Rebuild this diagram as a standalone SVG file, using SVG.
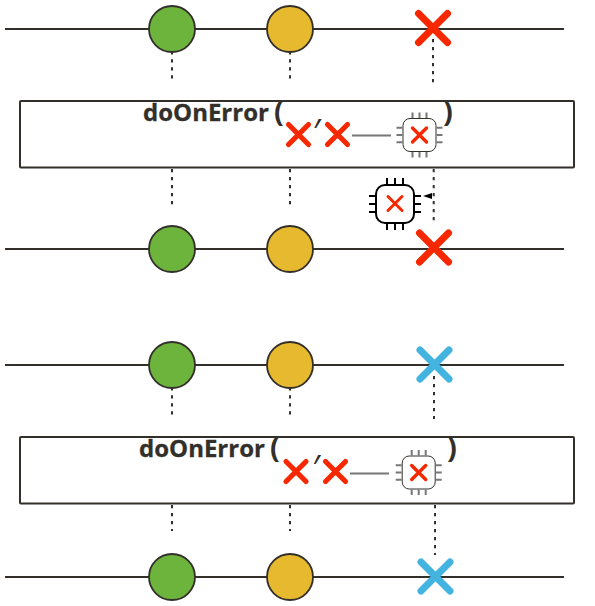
<svg xmlns="http://www.w3.org/2000/svg" width="595" height="606" viewBox="0 0 595 606">
<style>
.tl{stroke:#332f2b;stroke-width:2;fill:none}
.box{stroke:#332f2b;stroke-width:2;fill:#fff}
.dot{stroke:#332f2b;stroke-width:2;stroke-dasharray:3.300 4.700;fill:none}
.g{fill:#6cb43c;stroke:#332f2b;stroke-width:1.8}
.y{fill:#e6b92f;stroke:#332f2b;stroke-width:1.8}
.xr{stroke:#f72800;stroke-width:7;stroke-linecap:round;fill:none}
.xb{stroke:#42b4df;stroke-width:7;stroke-linecap:round;fill:none}
.xs{stroke:#f72800;stroke-width:5.200;stroke-linecap:round;fill:none}
.t{font-family:"Open Sans","Noto Sans",sans-serif;font-weight:700;font-size:24px;fill:#332f2b;stroke:#332f2b;stroke-width:.3}
.p{font-family:"Open Sans","Noto Sans",sans-serif;font-weight:700;font-size:29px;fill:#332f2b}
.q{font-family:"Open Sans","Noto Sans",sans-serif;font-size:34px;font-style:italic;fill:#332f2b}
.link{stroke:#777;stroke-width:2;fill:none}
</style>
<defs>
<g id="chip-g"><rect x="-16.500" y="-16.500" width="33" height="33" rx="7" fill="#fff" stroke="#332f2b" stroke-width="1"/>
<path d="M-7-17v-5.500M0-17v-5.500M7-17v-5.500M-7 17v5.500M0 17v5.500M7 17v5.500M-17-7.300h-6M-17 0h-6M-17 7.300h-6M17-7.300h6M17 0h6M17 7.300h6" stroke="#777" stroke-width="2" fill="none"/>
<path stroke="#f72800" stroke-width="3.400" stroke-linecap="round" fill="none" d="M-7-7L7 7M7-7L-7 7"/></g>
<g id="chip-k"><rect x="-19" y="-19" width="38" height="38" rx="9" fill="#fff" stroke="#000" stroke-width="2"/>
<path d="M-8-19v-7M0-19v-7M8-19v-7M-8 19v7M0 19v7M8 19v7M-19-8h-7M-19 0h-7M-19 8h-7M19-8h7M19 0h7M19 8h7" stroke="#000" stroke-width="2" fill="none"/>
<path stroke="#f72800" stroke-width="3" stroke-linecap="round" fill="none" d="M-7-7.500L7 6.500M7-7.500L-7 6.500"/></g>
</defs>
<g id="node-op1"><rect class="box" x="20" y="101" width="554" height="66.500" rx="1"/>
<text class="t" x="143" y="121">doOnError</text><text class="p" x="274" y="122">(</text><text class="p" x="443" y="122">)</text>
<path class="xs" d="M288.500 124.500L308.500 144.500M308.500 124.500L288.500 144.500M327.500 124.500L347.500 144.500M347.500 124.500L327.500 144.500"/>
<text class="q" x="312" y="144">′</text>
<use href="#chip-g" x="419.500" y="135"/></g>
<g id="node-op2"><rect class="box" x="20" y="437" width="554" height="66.500" rx="1"/>
<text class="t" x="139" y="457">doOnError</text><text class="p" x="270" y="458">(</text><text class="p" x="447" y="458">)</text>
<path class="xs" d="M286 461.500L306 481.500M306 461.500L286 481.500M325.500 461.500L345.500 481.500M345.500 461.500L325.500 481.500"/>
<text class="q" x="311.500" y="480">′</text>
<use href="#chip-g" x="418.700" y="472.500"/></g>
<g id="connectors">
<path class="tl" d="M5 29H564M5 249H564M5 365H564M5 577H564"/>
<path class="dot" d="M172 51.300V79M290 51.300V79M433 39V83M172 169V205M290 169V205M433.700 169V221M172 387.300V415M290 387.300V415M434 376V419M172 505V531M290 505V531M435 505V555"/>
<path class="link" d="M352 135.500H391M350 473.500H389"/>
<path d="M423 196L432 193V199Z" fill="#000"/>
</g>
<g id="node-chip"><use href="#chip-k" x="395" y="204"/></g>
<g id="row1"><circle class="g" cx="172" cy="29" r="23"/><circle class="y" cx="290" cy="29" r="23"/><path class="xr" d="M418.500 13.500L447.500 42.500M447.500 13.500L418.500 42.500"/></g>
<g id="row2"><circle class="g" cx="172" cy="249" r="23"/><circle class="y" cx="290" cy="249" r="23"/><path class="xr" d="M419.500 233L448.500 262M448.500 233L419.500 262"/></g>
<g id="row3"><circle class="g" cx="172" cy="365" r="23"/><circle class="y" cx="290" cy="365" r="23"/><path class="xb" d="M420 350L449 379M449 350L420 379"/></g>
<g id="row4"><circle class="g" cx="172" cy="577" r="23"/><circle class="y" cx="290" cy="577" r="23"/><path class="xb" d="M421 562L450 591M450 562L421 591"/></g>
</svg>
